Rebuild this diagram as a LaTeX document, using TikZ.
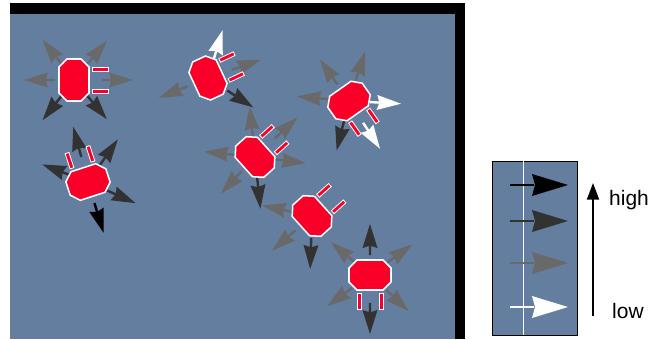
\documentclass[tikz,border=0pt]{standalone}
\usepackage{fontspec}
\setmainfont{Liberation Sans}
\usetikzlibrary{arrows.meta}
\definecolor{FieldBlue}{RGB}{100,126,160}
\definecolor{BotRed}{RGB}{250,0,40}
\definecolor{DartGray}{RGB}{105,105,105}
\definecolor{DartDark}{RGB}{50,50,50}
\definecolor{DartBlack}{RGB}{0,0,0}
\definecolor{DartWhite}{RGB}{255,255,255}
\begin{document}
\begin{tikzpicture}[x=0.03cm,y=-0.03cm,
  body/.style={fill=BotRed,draw=white,line width=1.3pt},
  prong/.style={fill=BotRed,draw=white,line width=0.7pt},
  lbl/.style={font=\fontsize{17.9}{20}\selectfont,inner sep=0pt,anchor=base west}
]
  \useasboundingbox (0,0) rectangle (652,339);
  % arena
  \fill[FieldBlue] (10,14) rectangle (455,339);
  \fill[black] (10,3) rectangle (465,14);
  \fill[black] (455,3) rectangle (465,339);
  % robots: x/y/heading/{dart angle/colour/start}
  \foreach \x/\y/\f/\darts in {
    74/80/0/{180/DartGray/19, 0/DartGray/28, 128/DartGray/20, 50/DartGray/20, 232/DartDark/20, 310/DartDark/20},
    208/78/25/{73/DartWhite/19, 202/DartGray/22, 19/DartGray/25, -33/DartDark/23},
    349/101/-55/{125/DartGray/20, 72/DartGray/21, 175/DartGray/21, -3/DartWhite/21, -57/DartWhite/26, -104/DartDark/20},
    255/157/42/{96/DartGray/20, 43/DartGray/27, 174/DartGray/20, -7/DartGray/20, 227/DartGray/19, -84/DartDark/21},
    88/182/108/{105/DartDark/26, 55/DartDark/21, 159/DartDark/18, -24/DartDark/21, -73/DartBlack/22},
    312/216/42/{168/DartGray/20, 221/DartGray/22, -92/DartDark/22},
    370/275/-90/{90/DartDark/20, 140/DartGray/20, 36/DartGray/21, 216/DartGray/22, -43/DartGray/22, -90/DartDark/28}}{
    \begin{scope}[shift={(\x,\y)}]
      \foreach \ang/\col/\rad in \darts
        \fill[\col,rotate=\ang] (\rad,-1.2) -- (\rad+9,-1.2) -- (\rad+7,-7.5) -- (\rad+31,0)
          -- (\rad+7,7.5) -- (\rad+9,1.2) -- (\rad,1.2) -- cycle;
      \begin{scope}[rotate=\f]
        \draw[body] (15,-13) -- (7,-21) -- (-7,-21) -- (-15,-13) -- (-15,13) -- (-7,21) -- (7,21) -- (15,13) -- cycle;
        \draw[prong] (18,-13) rectangle (34,-9);
        \draw[prong] (18,9) rectangle (34,13);
      \end{scope}
    \end{scope}
  }
  % key
  \filldraw[fill=FieldBlue,draw=black,line width=0.8pt] (492,161) rectangle (577,335);
  \draw[white,line width=0.6pt] (523,161) -- (523,335);
  \foreach \ky/\col in {185/DartBlack,221/DartDark,263/DartGray,307/DartWhite}{
    \coordinate (key) at (510,\ky);
    \draw[\col,line width=1pt] (key) -- ++(24,0);
    \fill[\col] (key) ++(22,-11) -- ++(36,11) -- ++(-36,11) -- ++(3,-11) -- cycle;
  }
  \coordinate (lowend) at (593,316);
  \coordinate (highend) at (593,183);
  \draw[-{Triangle[width=3.6mm,length=5mm]},line width=1.6pt] (lowend) -- (highend);
  \node[lbl] (high) at (609,205) {high};
  \node[lbl] (low) at (612,318) {low};
\end{tikzpicture}
\end{document}
